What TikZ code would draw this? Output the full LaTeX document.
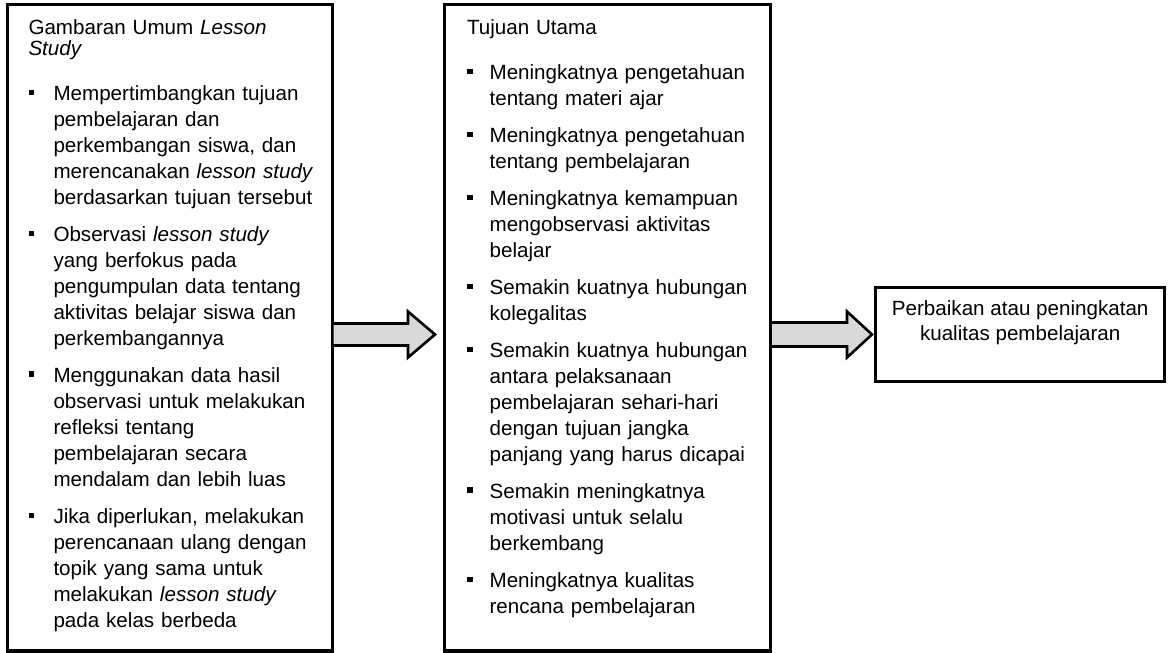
\documentclass[tikz,border=0pt]{standalone}
\usepackage{fontspec}
\setmainfont{Liberation Sans}
\usetikzlibrary{calc}
\definecolor{arrowfill}{HTML}{D9D9D9}
\hyphenpenalty=10000
\newenvironment{pointlist}[1]{\begin{list}{\rule[5.5pt]{5.5pt}{5.5pt}\hfill}{%
\setlength{\leftmargin}{#1}\setlength{\labelwidth}{#1}\setlength{\labelsep}{0pt}%
\setlength{\itemindent}{0pt}\setlength{\topsep}{0pt}\setlength{\partopsep}{0pt}%
\setlength{\parsep}{0pt}\setlength{\itemsep}{11pt}}}{\end{list}}

\begin{document}
\begin{tikzpicture}[x=1pt,y=-1pt]
\tikzset{panel/.style={draw, line width=3.4pt, outer sep=0pt, inner sep=0pt, anchor=north west}}
\tikzset{paneltext/.style={anchor=base west, inner sep=0pt, text width=300pt, align=left, font=\fontsize{20.6}{26}\selectfont}}
\tikzset{resulttext/.style={anchor=base, inner sep=0pt, align=center, font=\fontsize{20.6}{25}\selectfont}}
\tikzset{blockarrow/.style={draw, line width=2.6pt, fill=arrowfill, line join=miter}}
\useasboundingbox (0,0) rectangle (1168,653);
\node[panel, minimum width=324.8pt, minimum height=646.3pt] (overview) at (7.5,4.7) {};
\node[panel, minimum width=326pt, minimum height=646.3pt] (goals) at (444.5,4.7) {};
\node[panel, minimum width=289pt, minimum height=94pt] (result) at (875.7,287.5) {};
\node[paneltext] (overviewtext) at ($(overview.north west)+(20.8,29.8)$) {%
{\fontsize{20.6}{21}\selectfont Gambaran Umum \textit{Lesson}\newline\textit{Study}\par}\vspace{19pt}%
\begin{pointlist}{25pt}
\item Mempertimbangkan tujuan\newline pembelajaran dan\newline perkembangan siswa, dan\newline merencanakan \textit{lesson study}\newline berdasarkan tujuan tersebut
\item Observasi \textit{lesson study}\newline yang berfokus pada\newline pengumpulan data tentang\newline aktivitas belajar siswa dan\newline perkembangannya
\item Menggunakan data hasil\newline observasi untuk melakukan\newline refleksi tentang\newline pembelajaran secara\newline mendalam dan lebih luas
\item Jika diperlukan, melakukan\newline perencanaan ulang dengan\newline topik yang sama untuk\newline melakukan \textit{lesson study}\newline pada kelas berbeda
\end{pointlist}};
\node[paneltext] (goalstext) at ($(goals.north west)+(22.3,29.8)$) {%
{\fontsize{20.6}{21}\selectfont Tujuan Utama\par}\vspace{19pt}%
\begin{pointlist}{22.6pt}
\item Meningkatnya pengetahuan\newline tentang materi ajar
\item Meningkatnya pengetahuan\newline tentang pembelajaran
\item Meningkatnya kemampuan\newline mengobservasi aktivitas\newline belajar
\item Semakin kuatnya hubungan\newline kolegalitas
\item Semakin kuatnya hubungan\newline antara pelaksanaan\newline pembelajaran sehari-hari\newline dengan tujuan jangka\newline panjang yang harus dicapai
\item Semakin meningkatnya\newline motivasi untuk selalu\newline berkembang
\item Meningkatnya kualitas\newline rencana pembelajaran
\end{pointlist}};
\node[resulttext] (resultlabel) at ($(result.north)+(0,52.5)$) {Perbaikan atau peningkatan\\kualitas pembelajaran};
\coordinate (from1) at (overview.east |- result.west);
\coordinate (to1) at ($(goals.west |- result.west)+(-9.5,0)$);
\coordinate (from2) at (goals.east |- result.west);
\coordinate (to2) at ($(result.west)+(-3.7,0)$);
\draw[blockarrow] ($(from1)+(0,-11)$) -- ($(to1)+(-27,-11)$) -- ($(to1)+(-27,-23)$) -- (to1) -- ($(to1)+(-27,23)$) -- ($(to1)+(-27,11)$) -- ($(from1)+(0,11)$) -- cycle;
\draw[blockarrow] ($(from2)+(0,-12)$) -- ($(to2)+(-25,-12)$) -- ($(to2)+(-25,-23)$) -- (to2) -- ($(to2)+(-25,23)$) -- ($(to2)+(-25,12)$) -- ($(from2)+(0,12)$) -- cycle;
\end{tikzpicture}
\end{document}
